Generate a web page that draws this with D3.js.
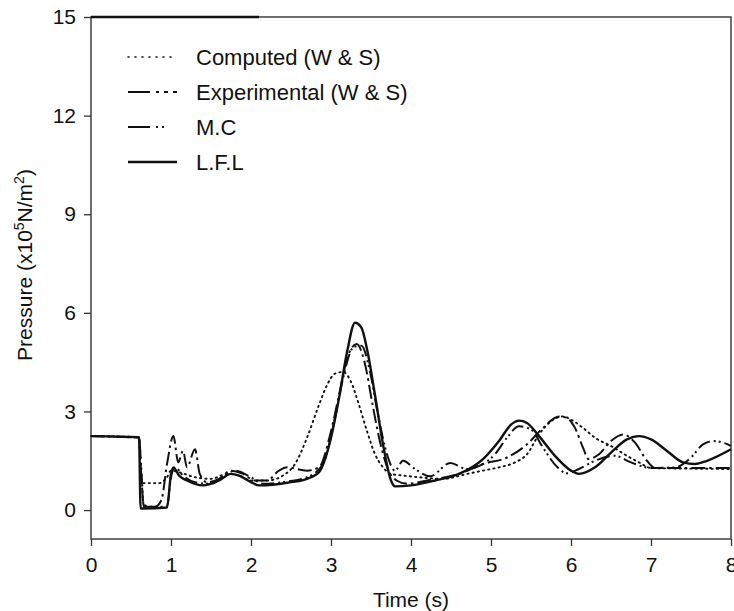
<!DOCTYPE html>
<html>
<head>
<meta charset="utf-8">
<script src="https://cdn.jsdelivr.net/npm/d3@7"></script>
<style>
  body { margin: 0; background: #fff; }
  svg { font-family: "Liberation Sans", Arial, sans-serif; }
</style>
</head>
<body>
<div id="chart"></div>
<script>
// Pressure vs time, four curves: [time (s), pressure (x10^5 N/m^2)]
const xTicks = [0, 1, 2, 3, 4, 5, 6, 7, 8];
const yTicks = [0, 3, 6, 9, 12, 15];

const computedWS = [
  [0, 2.25], [0.6, 2.22], [0.62, 1.3], [0.64, 0.82], [0.85, 0.82], [0.95, 1.0], [1.0, 1.2],
  [1.1, 1.15], [1.3, 1.0], [1.5, 0.95], [1.7, 1.1], [1.85, 1.05], [2.0, 0.9], [2.2, 0.9],
  [2.4, 1.05], [2.55, 1.4], [2.7, 2.2], [2.85, 3.2], [2.95, 3.8], [3.05, 4.15], [3.15, 4.2],
  [3.25, 3.9], [3.35, 3.2], [3.45, 2.4], [3.55, 1.7], [3.65, 1.3], [3.75, 1.1], [3.9, 1.05],
  [4.1, 1.0], [4.4, 0.95], [4.7, 1.1], [4.9, 1.2], [5.1, 1.3], [5.3, 1.45], [5.45, 1.7],
  [5.6, 2.3], [5.75, 2.7], [5.9, 2.85], [6.0, 2.75], [6.15, 2.5], [6.3, 2.2], [6.5, 1.95],
  [6.7, 1.65], [6.85, 1.45], [7.0, 1.28], [7.5, 1.26], [8.0, 1.25]
];

const experimentalWS = [
  [0, 2.25], [0.6, 2.2], [0.63, 1.0], [0.66, 0.15], [0.8, 0.1], [0.88, 0.3], [0.95, 1.4],
  [1.03, 2.25], [1.09, 1.45], [1.15, 1.8], [1.2, 1.3], [1.3, 1.85], [1.36, 1.1], [1.45, 0.85],
  [1.6, 0.95], [1.75, 1.2], [1.9, 1.1], [2.05, 0.9], [2.2, 0.9], [2.35, 1.2], [2.45, 1.3],
  [2.7, 1.2], [2.85, 1.3], [3.0, 2.4], [3.1, 3.5], [3.2, 4.6], [3.32, 5.05], [3.42, 4.5],
  [3.52, 3.2], [3.62, 2.0], [3.72, 1.2], [3.82, 0.9], [3.95, 0.8], [4.2, 0.9], [4.6, 1.1],
  [4.9, 1.4], [5.2, 1.6], [5.45, 2.0], [5.65, 2.5], [5.85, 2.85], [5.95, 2.8], [6.05, 2.5],
  [6.15, 1.9], [6.22, 1.55], [6.35, 1.7], [6.5, 2.1], [6.65, 2.3], [6.8, 2.05], [6.95, 1.5],
  [7.05, 1.28], [7.5, 1.28], [8.0, 1.28]
];

const mc = [
  [0, 2.25], [0.6, 2.2], [0.63, 1.2], [0.66, 0.1], [0.95, 0.1], [1.0, 1.0], [1.05, 1.3],
  [1.15, 1.05], [1.3, 0.85], [1.5, 0.8], [1.65, 1.0], [1.8, 1.2], [2.0, 1.0], [2.15, 0.8],
  [2.4, 0.85], [2.7, 1.0], [2.9, 1.4], [3.05, 2.8], [3.15, 4.0], [3.28, 4.95], [3.38, 5.0],
  [3.48, 4.3], [3.58, 3.0], [3.7, 1.7], [3.8, 1.2], [3.9, 1.5], [4.05, 1.25], [4.24, 1.03],
  [4.49, 1.43], [4.7, 1.25], [4.86, 1.35], [5.05, 1.7], [5.2, 2.2], [5.35, 2.55], [5.5, 2.45],
  [5.65, 1.9], [5.82, 1.33], [5.95, 1.12], [6.1, 1.25], [6.3, 1.5], [6.55, 1.65], [6.75, 1.45],
  [7.0, 1.28], [7.3, 1.3], [7.5, 1.6], [7.65, 2.0], [7.78, 2.1], [7.9, 2.05], [8.0, 1.95]
];

const lfl = [
  [0, 2.25], [0.6, 2.22], [0.62, 0.05], [0.65, 0.05], [0.95, 0.08], [1.0, 1.1], [1.03, 1.3],
  [1.1, 1.05], [1.2, 0.9], [1.4, 0.75], [1.6, 0.9], [1.75, 1.1], [1.85, 1.05], [2.0, 0.85],
  [2.1, 0.75], [2.3, 0.78], [2.5, 0.85], [2.7, 0.95], [2.85, 1.15], [3.0, 2.2], [3.1, 3.4],
  [3.2, 4.8], [3.3, 5.7], [3.38, 5.55], [3.45, 4.9], [3.55, 3.5], [3.65, 2.0], [3.75, 0.9],
  [3.8, 0.72], [4.0, 0.75], [4.3, 0.9], [4.6, 1.1], [4.9, 1.55], [5.1, 2.1], [5.25, 2.6],
  [5.35, 2.72], [5.45, 2.65], [5.6, 2.25], [5.8, 1.65], [6.0, 1.2], [6.1, 1.1], [6.3, 1.3],
  [6.5, 1.75], [6.7, 2.15], [6.85, 2.25], [7.0, 2.15], [7.2, 1.8], [7.4, 1.45], [7.55, 1.4],
  [7.7, 1.5], [8.0, 1.85]
];

const seriesNames = ["Computed (W & S)", "Experimental (W & S)", "M.C", "L.F.L"];
const seriesData = [computedWS, experimentalWS, mc, lfl];
const seriesDash = ["1.3,4", "14,4,2.5,4", "13,4,2,3,2,4", null];
const seriesWidth = [1.9, 2, 2, 2.4];

const width = 734, height = 611;
const margin = { top: 17, right: 3, bottom: 72, left: 91 };
const innerWidth = width - margin.left - margin.right;
const innerHeight = height - margin.top - margin.bottom;
const font = "'Liberation Sans', Arial, sans-serif";

const svg = d3.select("#chart").append("svg")
  .attr("width", width)
  .attr("height", height);

const g = svg.append("g")
  .attr("transform", `translate(${margin.left},${margin.top})`);

const x = d3.scaleLinear().domain([0, 8]).range([0, innerWidth]);
const y = d3.scaleLinear().domain([-0.88, 15]).range([innerHeight, 0]);

// frame
g.append("rect")
  .attr("width", innerWidth).attr("height", innerHeight)
  .attr("fill", "none").attr("stroke", "#333").attr("stroke-width", 1.4);
g.append("line")
  .attr("x1", 0).attr("x2", x(2.1)).attr("y1", 0).attr("y2", 0)
  .attr("stroke", "#111").attr("stroke-width", 2.4);

// axes
const xAxis = g.append("g")
  .attr("transform", `translate(0,${innerHeight})`)
  .call(d3.axisBottom(x).tickValues(xTicks).tickSize(7).tickPadding(11).tickSizeOuter(0));
const yAxis = g.append("g")
  .call(d3.axisLeft(y).tickValues(yTicks).tickSize(7).tickPadding(8).tickSizeOuter(0));

[xAxis, yAxis].forEach((a) => {
  a.select(".domain").remove();
  a.selectAll("line").attr("stroke", "#333").attr("stroke-width", 1.3);
  a.selectAll("text").attr("font-size", "21px").attr("fill", "#111")
    .attr("font-family", font);
});

// axis titles
svg.append("text")
  .attr("x", margin.left + x(4)).attr("y", 607)
  .attr("text-anchor", "middle").attr("font-size", "21px").attr("fill", "#111")
  .text("Time (s)");

const yTitle = svg.append("text")
  .attr("transform", "translate(32,265) rotate(-90)")
  .attr("text-anchor", "middle").attr("font-size", "21px").attr("fill", "#111");
yTitle.append("tspan").text("Pressure (x10");
yTitle.append("tspan").attr("dy", -8).attr("font-size", "14px").text("5");
yTitle.append("tspan").attr("dy", 8).text("N/m");
yTitle.append("tspan").attr("dy", -8).attr("font-size", "14px").text("2");
yTitle.append("tspan").attr("dy", 8).text(")");

// curves
const line = d3.line()
  .x((d) => x(d[0]))
  .y((d) => y(d[1]))
  .curve(d3.curveMonotoneX);

const curvesG = g.append("g").attr("class", "curves");
seriesData.forEach((data, i) => {
  curvesG.append("path")
    .datum(data)
    .attr("d", line)
    .attr("fill", "none")
    .attr("stroke", "#111")
    .attr("stroke-width", seriesWidth[i])
    .attr("stroke-linecap", i === 0 ? "round" : "butt")
    .attr("stroke-dasharray", seriesDash[i]);
});

// legend
const legend = svg.append("g").attr("transform", "translate(128,57)");
seriesNames.forEach((name, i) => {
  const row = legend.append("g").attr("transform", `translate(0,${i * 35})`);
  row.append("line")
    .attr("x1", 0).attr("x2", 49).attr("y1", 0).attr("y2", 0)
    .attr("stroke", "#111")
    .attr("stroke-width", i === 0 ? 1.6 : seriesWidth[i])
    .attr("stroke-linecap", i === 0 ? "round" : "butt")
    .attr("stroke-dasharray", i === 0 ? "1,6" : (i === 1 ? "22,6,3,5,4,5" : (i === 2 ? "22,6,2,4,2,20" : null)));
  row.append("text")
    .attr("x", 68).attr("y", 8)
    .attr("font-size", "22px").attr("fill", "#111")
    .text(name);
});
</script>
</body>
</html>
